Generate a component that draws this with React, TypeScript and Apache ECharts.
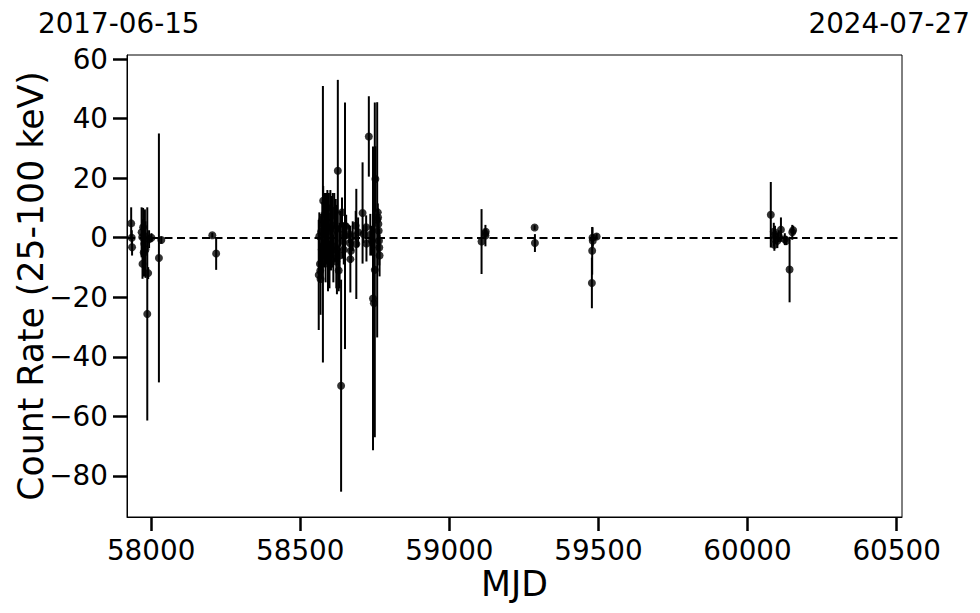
import React, { useEffect, useRef } from "react";
import * as echarts from "echarts";

const FONT = "DejaVu Sans";

const xMin = 57919;
const xMax = 60518;
const yMin = -93.8;
const yMax = 61.35;

const xTicks = [58000, 58500, 59000, 59500, 60000, 60500];
const yTicks = [-80, -60, -40, -20, 0, 20, 40, 60];

const dateLeft = "2017-06-15";
const dateRight = "2024-07-27";
const xTitle = "MJD";
const yTitle = "Count Rate (25-100 keV)";

// observation epochs (MJD)
const mjd = [
  57933, 57935, 57936,
  57968, 57970, 57971, 57973, 57975, 57977, 57979, 57981, 57987, 57990, 57993, 58001, 58026, 58034,
  58205, 58218,
  58562, 58564, 58566, 58567, 58568, 58570, 58572, 58574, 58576, 58577,
  58580, 58583, 58585, 58588, 58591, 58593, 58596, 58598, 58601, 58603,
  58606, 58609, 58611, 58614, 58617, 58619, 58621, 58623, 58626, 58629,
  58632, 58634, 58637, 58640, 58642, 58644, 58646, 58650, 58651, 58654,
  58664, 58666, 58668, 58670, 58676, 58686, 58688, 58694, 58709, 58712,
  58721, 58722, 58730, 58735, 58740, 58744, 58747, 58750, 58752, 58758,
  58760, 58761, 58762, 58763, 58764, 58765, 58766,
  59108, 59120, 59121, 59122,
  59286, 59287,
  59478, 59479, 59480, 59481, 59494,
  60078, 60088, 60089, 60090, 60092, 60100, 60105, 60112, 60125, 60130, 60141, 60150, 60153,
];

// count rate (25-100 keV)
const rate = [
  4.8, 0.0, -3.2,
  1.8, 0.2, -8.8, 3.5, -5, -2, 0.5, -4, -25.6, -11.9, -0.5, 0.0, -6.8, -0.8,
  0.8, -5.3,
  -12.5, 0.5, -8.8, -11.1, -13.9, 2, -4, 6, 4.5, 12.4,
  -2, 8, -6, 3, 10, -3, 5, -9, 7, -5,
  2, 4, -7, 9, -3, 3, -8, -4, 22.5, -11,
  -6, 3, -49.7, 8.5, -1, 1, -4, 4, 0.7, 3.7,
  1.2, -1.8, -7.2, -4.4, 0.5, 4, -2.1, 1.8, 8.3, 1.2,
  3.5, -2, 34, 1, -1, -20.4, -22, -10.8, 19.7, 6,
  8.5, 6.8, 4.6, 2.3, -1, -3.3, -6,
  -1.3, 1.4, 0.7, 2,
  3.4, -1.8,
  -15.2, -4.4, 0, -1, 0.4,
  7.7, 2, -0.4, -2.4, 1, -1, 0.5, 2.7, -0.5, -1, -10.7, 1.8, 2.5,
];

// 1-sigma errors
const rateErr = [
  5.4, 2.5, 2.8,
  8.4, 6, 5, 6.5, 8, 11, 9, 9.5, 35.8, 2, 3, 1.5, 41.8, 1.2,
  0.8, 5.5,
  18.5, 8, 5, 4, 12, 6, 10, 6, 46.4, 5,
  8, 7, 9, 12, 6, 15, 10, 8, 9, 6,
  12, 11, 8, 6, 5, 10, 9, 15, 30.5, 7,
  11, 6, 35.6, 5, 6, 4, 5, 41.4, 3, 4,
  3, 4, 11.2, 4, 5, 5, 18.5, 5, 17, 3,
  4, 6, 13.5, 7, 5, 51, 44, 56.2, 11, 39.5,
  3, 3, 4, 5, 4, 6, 7,
  10.9, 1.5, 3.6, 1,
  0.8, 3,
  8.5, 8, 3.5, 2, 1,
  11, 3, 2.5, 2, 3, 2.5, 2, 4.1, 2, 1.5, 11, 2.5, 1.5,
];

const fmt = (v: number) => (v < 0 ? "\u2212" + Math.abs(v) : String(v));

export default function App() {
  const ref = useRef<HTMLDivElement>(null);
  useEffect(() => {
    if (!ref.current) return;
    const chart = echarts.init(ref.current, null, { renderer: "svg" });
    const errData = mjd.map((m, i) => [m, rate[i], rateErr[i]]);
    const ptData = mjd.map((m, i) => [m, rate[i]]);
    chart.setOption({
      animation: false,
      backgroundColor: "#fff",
      grid: {
        left: 127,
        right: 78,
        top: 55,
        bottom: 96,
        show: true,
        borderColor: "#000",
        borderWidth: 1,
        backgroundColor: "transparent",
      },
      xAxis: {
        type: "value",
        min: xMin,
        max: xMax,
        splitNumber: 5,
        axisLine: { show: true, onZero: false, lineStyle: { color: "#000", width: 1 } },
        axisTick: { show: true, inside: false, length: 14, lineStyle: { color: "#000", width: 2.5 }, customValues: xTicks },
        axisLabel: {
          customValues: xTicks,
          formatter: (v: number) => fmt(v),
          fontSize: 27.8,
          fontFamily: FONT,
          color: "#000",
          margin: 19,
        },
        splitLine: { show: false },
      },
      yAxis: {
        type: "value",
        min: yMin,
        max: yMax,
        splitNumber: 8,
        axisLine: { show: true, onZero: false, lineStyle: { color: "#000", width: 1 } },
        axisTick: { show: true, inside: false, length: 14, lineStyle: { color: "#000", width: 2.5 }, customValues: yTicks },
        axisLabel: {
          customValues: yTicks,
          formatter: (v: number) => fmt(v),
          fontSize: 27.8,
          fontFamily: FONT,
          color: "#000",
          margin: 19,
        },
        splitLine: { show: false },
      },
      graphic: [
        { type: "text", x: 38, y: 23, style: { text: dateLeft, fontSize: 27.8, fontFamily: FONT, fill: "#000", align: "left", verticalAlign: "middle" } },
        { type: "text", x: 970, y: 23, style: { text: dateRight, fontSize: 27.8, fontFamily: FONT, fill: "#000", align: "right", verticalAlign: "middle" } },
        { type: "text", x: 514.5, y: 584, style: { text: xTitle, fontSize: 34.7, fontFamily: FONT, fill: "#000", align: "center", verticalAlign: "middle" } },
        { type: "text", x: 31, y: 286, rotation: Math.PI / 2, style: { text: yTitle, fontSize: 34.7, fontFamily: FONT, fill: "#000", align: "center", verticalAlign: "middle" } },
      ],
      series: [
        {
          type: "custom",
          data: errData,
          encode: { x: 0, y: 1 },
          clip: true,
          z: 2,
          renderItem: (params: any, api: any) => {
            const x = api.value(0);
            const y = api.value(1);
            const e = api.value(2);
            const p1 = api.coord([x, y + e]);
            const p2 = api.coord([x, y - e]);
            return {
              type: "line",
              shape: { x1: p1[0], y1: p1[1], x2: p2[0], y2: p2[1] },
              style: { stroke: "#000", lineWidth: 2 },
            };
          },
        },
        {
          type: "scatter",
          data: ptData,
          symbol: "circle",
          symbolSize: 8,
          itemStyle: { color: "#000" },
          z: 3,
          markLine: {
            silent: true,
            symbol: ["none", "none"],
            label: { show: false },
            lineStyle: { color: "#000", type: [8, 4.5], width: 2.2 },
            data: [{ yAxis: 0 }],
          },
        },
      ],
    });
    return () => chart.dispose();
  }, []);
  return <div ref={ref} style={{ position: "fixed", left: 0, top: 0, width: 980, height: 613 }} />;
}
